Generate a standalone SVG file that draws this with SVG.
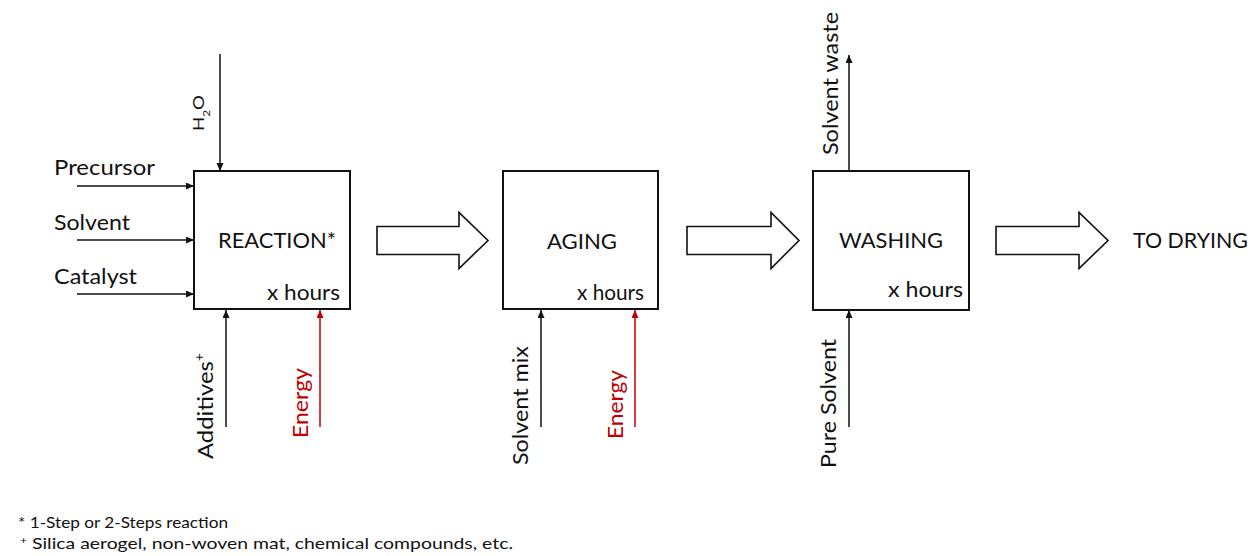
<svg xmlns="http://www.w3.org/2000/svg" width="1258" height="556" viewBox="0 0 1258 556">
<style>
text{font-family:Lato,"Liberation Sans",sans-serif;fill:#111;}
.lbl{font-size:21px;}
.rot{font-size:22px;}
.red{fill:#c00000;}
.foot{font-size:16px;}
.box{fill:#fff;stroke:#111;stroke-width:2;}
.ln{stroke:#111;stroke-width:1.5;fill:none;marker-end:url(#ah);}
.lnr{stroke:#c00000;stroke-width:1.5;fill:none;marker-end:url(#ahr);}
.blk{fill:#fff;stroke:#111;stroke-width:1.6;stroke-linejoin:miter;}
</style>
<defs>
<marker id="ah" markerUnits="userSpaceOnUse" markerWidth="9" markerHeight="8" refX="8" refY="3.5" orient="auto"><path d="M0,0 L8,3.5 L0,7 z" fill="#111"/></marker>
<marker id="ahr" markerUnits="userSpaceOnUse" markerWidth="9" markerHeight="8" refX="8" refY="3.5" orient="auto"><path d="M0,0 L8,3.5 L0,7 z" fill="#c00000"/></marker>
</defs>
<rect width="1258" height="556" fill="#fff"/>
<g id="connectors">
<line class="ln" x1="220" y1="54" x2="220" y2="171"/>
<line class="ln" x1="77" y1="186" x2="194" y2="186"/>
<line class="ln" x1="77" y1="240" x2="194" y2="240"/>
<line class="ln" x1="77" y1="294" x2="194" y2="294"/>
<line class="ln" x1="226" y1="427" x2="226" y2="310"/>
<line class="lnr" x1="320" y1="427" x2="320" y2="310"/>
<line class="ln" x1="541" y1="427" x2="541" y2="310"/>
<line class="lnr" x1="635" y1="427" x2="635" y2="310"/>
<line class="ln" x1="849" y1="427" x2="849" y2="310"/>
<line class="ln" x1="849" y1="171" x2="849" y2="55"/>
<polygon class="blk" points="377,226.5 459,226.5 459,212.5 488,240.5 459,268.5 459,254.5 377,254.5"/>
<polygon class="blk" points="687,226.5 771,226.5 771,212.5 799,240.5 771,268.5 771,254.5 687,254.5"/>
<polygon class="blk" points="996,226.5 1079,226.5 1079,212.5 1108,240.5 1079,268.5 1079,254.5 996,254.5"/>
<text class="lbl" x="54" y="175" textLength="101" lengthAdjust="spacingAndGlyphs">Precursor</text>
<text class="lbl" x="54" y="230" textLength="76" lengthAdjust="spacingAndGlyphs">Solvent</text>
<text class="lbl" x="54" y="284" textLength="83" lengthAdjust="spacingAndGlyphs">Catalyst</text>
<text transform="translate(204,131) rotate(-90)" font-size="16" textLength="36" lengthAdjust="spacingAndGlyphs">H<tspan font-size="10" dy="6">2</tspan><tspan dy="-6">O</tspan></text>
<text class="rot" transform="translate(213,459) rotate(-90)" textLength="106" lengthAdjust="spacingAndGlyphs">Additives<tspan font-size="13" dy="-9">+</tspan></text>
<text class="rot red" transform="translate(308,438) rotate(-90)" textLength="70" lengthAdjust="spacingAndGlyphs">Energy</text>
<text class="rot" transform="translate(528,465) rotate(-90)" textLength="119" lengthAdjust="spacingAndGlyphs">Solvent mix</text>
<text class="rot red" transform="translate(623,439) rotate(-90)" textLength="69" lengthAdjust="spacingAndGlyphs">Energy</text>
<text class="rot" transform="translate(836,468) rotate(-90)" textLength="129" lengthAdjust="spacingAndGlyphs">Pure Solvent</text>
<text class="rot" transform="translate(838,155) rotate(-90)" textLength="143" lengthAdjust="spacingAndGlyphs">Solvent waste</text>
</g>
<g id="node-reaction">
<rect class="box" x="194" y="171" width="156" height="138"/>
<text class="lbl" x="218" y="248" textLength="118" lengthAdjust="spacingAndGlyphs">REACTION*</text>
<text class="lbl" x="267" y="300" textLength="73" lengthAdjust="spacingAndGlyphs">x hours</text>
</g>
<g id="node-aging">
<rect class="box" x="503" y="171" width="155" height="138"/>
<text class="lbl" x="547" y="249" textLength="70" lengthAdjust="spacingAndGlyphs">AGING</text>
<text class="lbl" x="577" y="300" textLength="67" lengthAdjust="spacingAndGlyphs">x hours</text>
</g>
<g id="node-washing">
<rect class="box" x="813" y="171" width="156" height="139"/>
<text class="lbl" x="839" y="248" textLength="104" lengthAdjust="spacingAndGlyphs">WASHING</text>
<text class="lbl" x="888" y="297" textLength="75" lengthAdjust="spacingAndGlyphs">x hours</text>
</g>
<g id="node-drying">
<text class="lbl" x="1133" y="248" textLength="115" lengthAdjust="spacingAndGlyphs">TO DRYING</text>
</g>
<g id="footnotes">
<text class="foot" x="18" y="528" textLength="210" lengthAdjust="spacingAndGlyphs">* 1-Step or 2-Steps reaction</text>
<text class="foot" x="20" y="549" textLength="493" lengthAdjust="spacingAndGlyphs"><tspan font-size="10" dy="-5">+</tspan><tspan dy="5"> Silica aerogel, non-woven mat, chemical compounds, etc.</tspan></text>
</g>
</svg>
